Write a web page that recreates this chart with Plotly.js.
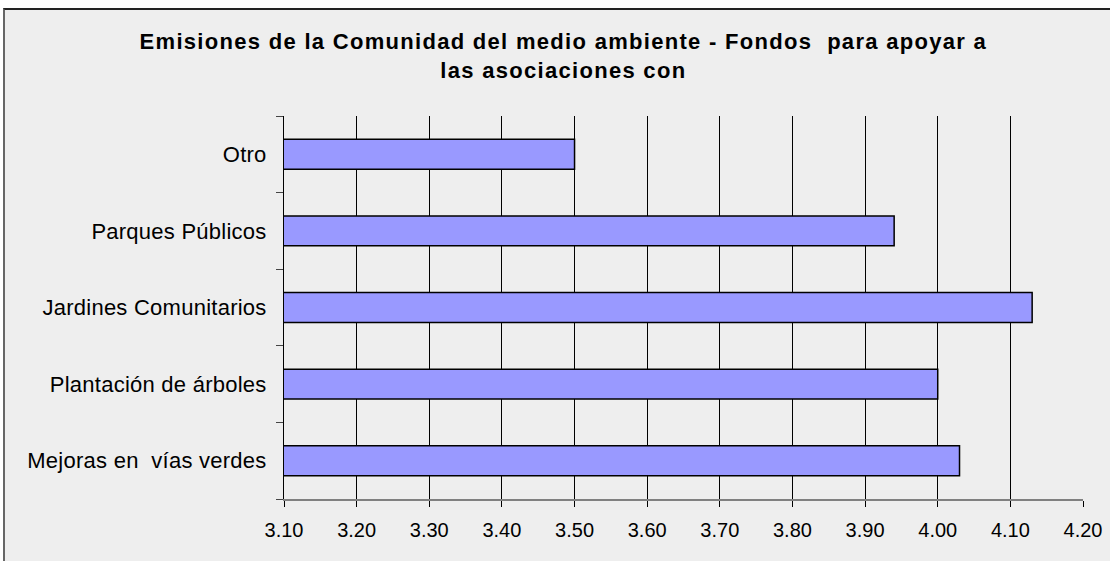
<!DOCTYPE html>
<html>
<head>
<meta charset="utf-8">
<script src="https://cdn.plot.ly/plotly-3.0.1.min.js"></script>
<style>
  html, body { margin: 0; padding: 0; background: #ffffff; overflow: hidden; width: 1110px; height: 561px; }
  #frame { position: absolute; left: 3px; top: 8px; width: 1120px; height: 560px;
           border-top: 2px solid #222; border-left: 2px solid #666; background: #eeeeee; overflow: hidden; }
  #chart { width: 1110px; height: 560px; }
  .gtitle { letter-spacing: 1.3px; }
  .ytick text { letter-spacing: 0.25px; }
</style>
</head>
<body>
<div id="frame"><div id="chart"></div></div>
<script>
const categories = ["Mejoras en  vías verdes", "Plantación de árboles", "Jardines Comunitarios", "Parques Públicos", "Otro"];
const values = [4.03, 4.00, 4.13, 3.94, 3.50];
const tickValues = [3.10, 3.20, 3.30, 3.40, 3.50, 3.60, 3.70, 3.80, 3.90, 4.00, 4.10, 4.20];
const chartTitle = "Emisiones de la Comunidad del medio ambiente - Fondos  para apoyar a<br>las asociaciones con";

const trace = {
  type: "bar",
  orientation: "h",
  y: categories,
  x: values,
  marker: { color: "#9999ff", line: { color: "#000000", width: 1.5 } },
  hoverinfo: "x+y"
};

const layout = {
  width: 1110,
  height: 560,
  paper_bgcolor: "#eeeeee",
  plot_bgcolor: "#eeeeee",
  showlegend: false,
  bargap: 0.61,
  margin: { l: 278.5, r: 31.5, t: 106, b: 71.3 },
  font: { family: "Liberation Sans, Arial, sans-serif", color: "#000000", size: 21 },
  title: {
    text: chartTitle,
    x: 0.503,
    xanchor: "center",
    y: 0.93,
    yanchor: "top",
    font: { family: "Liberation Sans, Arial, sans-serif", size: 22, color: "#000000", weight: "bold" }
  },
  xaxis: {
    range: [3.10, 4.20],
    tickvals: tickValues,
    ticktext: tickValues.map(v => v.toFixed(2)),
    showgrid: true,
    gridcolor: "#000000",
    gridwidth: 1,
    zeroline: false,
    showline: true,
    linecolor: "#808080",
    linewidth: 2,
    ticks: "outside",
    ticklen: 6,
    tickcolor: "#000000",
    tickwidth: 1,
    ticklabelstandoff: 6,
    tickfont: { size: 20, color: "#000000" },
    fixedrange: true
  },
  yaxis: {
    type: "category",
    categoryorder: "array",
    categoryarray: categories,
    showgrid: false,
    zeroline: false,
    showline: true,
    linecolor: "#000000",
    linewidth: 1,
    ticks: "outside",
    tickson: "boundaries",
    ticklen: 7,
    tickcolor: "#444444",
    tickwidth: 1,
    ticklabelstandoff: 12,
    tickfont: { size: 22, color: "#000000" },
    fixedrange: true
  }
};

Plotly.newPlot("chart", [trace], layout, { displayModeBar: false, staticPlot: true });
</script>
</body>
</html>
